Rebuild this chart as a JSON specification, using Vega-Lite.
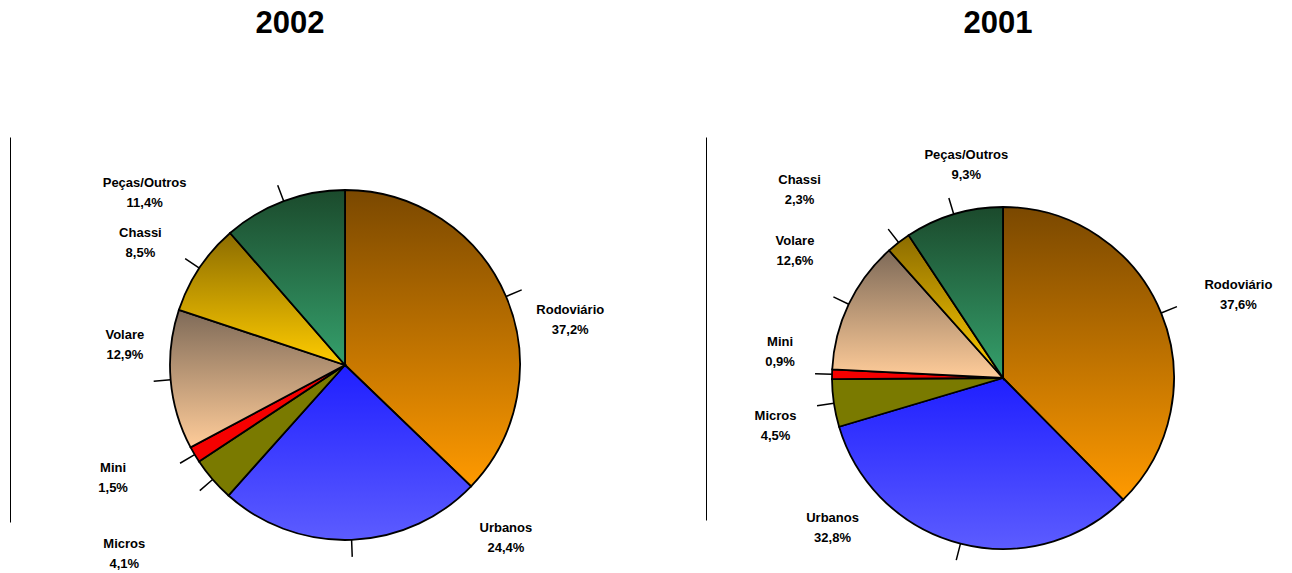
{
  "$schema": "https://vega.github.io/schema/vega-lite/v6.json",
  "autosize": "none",
  "padding": {"left": 10, "top": 137, "right": 1282, "bottom": 436},
  "background": "white",
  "spacing": 26,
  "bounds": "flush",
  "config": {
    "view": {"stroke": null},
    "text": {"font": "Liberation Sans", "fontSize": 13, "fontWeight": "bold", "lineBreak": "\n", "lineHeight": 20, "align": "center", "baseline": "middle", "fill": "black", "dy": -10},
    "title": {"font": "Liberation Sans", "fontSize": 31, "fontWeight": "bold", "color": "black", "anchor": "middle", "baseline": "alphabetic", "frame": "group"}
  },
  "datasets": {
    "d2002": [
      {"idx": 1, "category": "Rodoviário", "share": 37.2, "label": "Rodoviário\n37,2%"},
      {"idx": 2, "category": "Urbanos", "share": 24.4, "label": "Urbanos\n24,4%"},
      {"idx": 3, "category": "Micros", "share": 4.1, "label": "Micros\n4,1%"},
      {"idx": 4, "category": "Mini", "share": 1.5, "label": "Mini\n1,5%"},
      {"idx": 5, "category": "Volare", "share": 12.9, "label": "Volare\n12,9%"},
      {"idx": 6, "category": "Chassi", "share": 8.5, "label": "Chassi\n8,5%"},
      {"idx": 7, "category": "Peças/Outros", "share": 11.4, "label": "Peças/Outros\n11,4%"}
    ],
    "d2001": [
      {"idx": 1, "category": "Rodoviário", "share": 37.6, "label": "Rodoviário\n37,6%"},
      {"idx": 2, "category": "Urbanos", "share": 32.8, "label": "Urbanos\n32,8%"},
      {"idx": 3, "category": "Micros", "share": 4.5, "label": "Micros\n4,5%"},
      {"idx": 4, "category": "Mini", "share": 0.9, "label": "Mini\n0,9%"},
      {"idx": 5, "category": "Volare", "share": 12.6, "label": "Volare\n12,6%"},
      {"idx": 6, "category": "Chassi", "share": 2.3, "label": "Chassi\n2,3%"},
      {"idx": 7, "category": "Peças/Outros", "share": 9.3, "label": "Peças/Outros\n9,3%"}
    ]
  },
  "hconcat": [
    {
      "width": 670,
      "height": 456,
      "title": {"text": "2002", "dx": -55, "offset": 27},
      "data": {"name": "d2002"},
      "layer": [
        {
          "mark": {"type": "point", "opacity": 0},
          "encoding": {"y": {"field": "share", "type": "quantitative", "scale": {"range": [385, 0]}, "axis": {"domain": true, "domainColor": "black", "domainWidth": 1, "ticks": false, "labels": false, "grid": false, "title": null}}}
        },
        {
          "mark": {"type": "arc", "outerRadius": 175, "stroke": "black", "strokeWidth": 1.8},
          "encoding": {
            "theta": {"field": "share", "type": "quantitative", "stack": true},
            "order": {"field": "idx", "type": "quantitative"},
            "color": {
              "condition": [
                {"test": "datum.category === 'Rodoviário'", "value": {"gradient": "linear", "x1": 0, "y1": 0, "x2": 0, "y2": 1, "stops": [{"offset": 0, "color": "#7a4800"}, {"offset": 1, "color": "#ff9a00"}]}},
                {"test": "datum.category === 'Urbanos'", "value": {"gradient": "linear", "x1": 0, "y1": 0, "x2": 0, "y2": 1, "stops": [{"offset": 0, "color": "#1f1fff"}, {"offset": 1, "color": "#5c5cff"}]}},
                {"test": "datum.category === 'Micros'", "value": "#7a7a00"},
                {"test": "datum.category === 'Mini'", "value": "#f50000"},
                {"test": "datum.category === 'Volare'", "value": {"gradient": "linear", "x1": 0, "y1": 0, "x2": 0, "y2": 1, "stops": [{"offset": 0, "color": "#7e6a58"}, {"offset": 1, "color": "#ffcc99"}]}},
                {"test": "datum.category === 'Chassi'", "value": {"gradient": "linear", "x1": 0, "y1": 0, "x2": 0, "y2": 1, "stops": [{"offset": 0, "color": "#8c6c00"}, {"offset": 1, "color": "#ffcc00"}]}},
                {"test": "datum.category === 'Peças/Outros'", "value": {"gradient": "linear", "x1": 0, "y1": 0, "x2": 0, "y2": 1, "stops": [{"offset": 0, "color": "#1b4a2c"}, {"offset": 1, "color": "#35a06c"}]}}
              ],
              "value": "#cccccc"
            }
          }
        },
        {
          "mark": {"type": "arc", "innerRadius": 175, "outerRadius": 192, "padAngle": 3, "filled": false, "stroke": "black", "strokeWidth": 1.5},
          "encoding": {
            "theta": {"field": "share", "type": "quantitative", "stack": true},
            "order": {"field": "idx", "type": "quantitative"}
          }
        },
        {
          "mark": {"type": "text", "radius": 235, "dx": -9, "dy": -2},
          "encoding": {"theta": {"field": "share", "type": "quantitative", "stack": true}, "order": {"field": "idx", "type": "quantitative"},
            "text": {"condition": {"test": "datum.category === 'Chassi'", "field": "label"}, "value": ""}}
        },
        {
          "mark": {"type": "text", "radius": 235, "dx": 14, "dy": -50},
          "encoding": {"theta": {"field": "share", "type": "quantitative", "stack": true}, "order": {"field": "idx", "type": "quantitative"},
            "text": {"condition": {"test": "datum.category === 'Volare'", "field": "label"}, "value": ""}}
        },
        {
          "mark": {"type": "text", "radius": 235, "dx": 9, "dy": 37},
          "encoding": {"theta": {"field": "share", "type": "quantitative", "stack": true}, "order": {"field": "idx", "type": "quantitative"},
            "text": {"condition": {"test": "datum.category === 'Rodoviário'", "field": "label"}, "value": ""}}
        },
        {
          "mark": {"type": "text", "radius": 235, "dx": 152, "dy": -72},
          "encoding": {"theta": {"field": "share", "type": "quantitative", "stack": true}, "order": {"field": "idx", "type": "quantitative"},
            "text": {"condition": {"test": "datum.category === 'Urbanos'", "field": "label"}, "value": ""}}
        },
        {
          "mark": {"type": "text", "radius": 235, "dx": -43, "dy": 25},
          "encoding": {"theta": {"field": "share", "type": "quantitative", "stack": true}, "order": {"field": "idx", "type": "quantitative"},
            "text": {"condition": {"test": "datum.category === 'Micros'", "field": "label"}, "value": ""}}
        },
        {
          "mark": {"type": "text", "radius": 235, "dx": -30, "dy": -17},
          "encoding": {"theta": {"field": "share", "type": "quantitative", "stack": true}, "order": {"field": "idx", "type": "quantitative"},
            "text": {"condition": {"test": "datum.category === 'Mini'", "field": "label"}, "value": ""}}
        },
        {
          "mark": {"type": "text", "radius": 235, "dx": -118, "dy": 38},
          "encoding": {"theta": {"field": "share", "type": "quantitative", "stack": true}, "order": {"field": "idx", "type": "quantitative"},
            "text": {"condition": {"test": "datum.category === 'Peças/Outros'", "field": "label"}, "value": ""}}
        }
      ]
    },
    {
      "width": 594,
      "height": 482,
      "title": {"text": "2001", "dx": -5, "offset": 19},
      "data": {"name": "d2001"},
      "layer": [
        {
          "mark": {"type": "point", "opacity": 0},
          "encoding": {"y": {"field": "share", "type": "quantitative", "scale": {"range": [383, 0]}, "axis": {"domain": true, "domainColor": "black", "domainWidth": 1, "ticks": false, "labels": false, "grid": false, "title": null}}}
        },
        {
          "mark": {"type": "arc", "outerRadius": 171, "stroke": "black", "strokeWidth": 1.8},
          "encoding": {
            "theta": {"field": "share", "type": "quantitative", "stack": true},
            "order": {"field": "idx", "type": "quantitative"},
            "color": {
              "condition": [
                {"test": "datum.category === 'Rodoviário'", "value": {"gradient": "linear", "x1": 0, "y1": 0, "x2": 0, "y2": 1, "stops": [{"offset": 0, "color": "#7a4800"}, {"offset": 1, "color": "#ff9a00"}]}},
                {"test": "datum.category === 'Urbanos'", "value": {"gradient": "linear", "x1": 0, "y1": 0, "x2": 0, "y2": 1, "stops": [{"offset": 0, "color": "#1f1fff"}, {"offset": 1, "color": "#5c5cff"}]}},
                {"test": "datum.category === 'Micros'", "value": "#7a7a00"},
                {"test": "datum.category === 'Mini'", "value": "#f50000"},
                {"test": "datum.category === 'Volare'", "value": {"gradient": "linear", "x1": 0, "y1": 0, "x2": 0, "y2": 1, "stops": [{"offset": 0, "color": "#7e6a58"}, {"offset": 1, "color": "#ffcc99"}]}},
                {"test": "datum.category === 'Chassi'", "value": {"gradient": "linear", "x1": 0, "y1": 0, "x2": 0, "y2": 1, "stops": [{"offset": 0, "color": "#8c6c00"}, {"offset": 1, "color": "#ffcc00"}]}},
                {"test": "datum.category === 'Peças/Outros'", "value": {"gradient": "linear", "x1": 0, "y1": 0, "x2": 0, "y2": 1, "stops": [{"offset": 0, "color": "#1b4a2c"}, {"offset": 1, "color": "#35a06c"}]}}
              ],
              "value": "#cccccc"
            }
          }
        },
        {
          "mark": {"type": "arc", "innerRadius": 171, "outerRadius": 188, "padAngle": 3, "filled": false, "stroke": "black", "strokeWidth": 1.5},
          "encoding": {
            "theta": {"field": "share", "type": "quantitative", "stack": true},
            "order": {"field": "idx", "type": "quantitative"}
          }
        },
        {
          "mark": {"type": "text", "radius": 235, "dx": 18, "dy": -4},
          "encoding": {"theta": {"field": "share", "type": "quantitative", "stack": true}, "order": {"field": "idx", "type": "quantitative"},
            "text": {"condition": {"test": "datum.category === 'Rodoviário'", "field": "label"}, "value": ""}}
        },
        {
          "mark": {"type": "text", "radius": 235, "dx": 5, "dy": 3},
          "encoding": {"theta": {"field": "share", "type": "quantitative", "stack": true}, "order": {"field": "idx", "type": "quantitative"},
            "text": {"condition": {"test": "datum.category === 'Micros'", "field": "label"}, "value": ""}}
        },
        {
          "mark": {"type": "text", "radius": 235, "dx": -112, "dy": -88},
          "encoding": {"theta": {"field": "share", "type": "quantitative", "stack": true}, "order": {"field": "idx", "type": "quantitative"},
            "text": {"condition": {"test": "datum.category === 'Urbanos'", "field": "label"}, "value": ""}}
        },
        {
          "mark": {"type": "text", "radius": 235, "dx": -60, "dy": -12},
          "encoding": {"theta": {"field": "share", "type": "quantitative", "stack": true}, "order": {"field": "idx", "type": "quantitative"},
            "text": {"condition": {"test": "datum.category === 'Chassi'", "field": "label"}, "value": ""}}
        },
        {
          "mark": {"type": "text", "radius": 235, "dx": 4, "dy": -36},
          "encoding": {"theta": {"field": "share", "type": "quantitative", "stack": true}, "order": {"field": "idx", "type": "quantitative"},
            "text": {"condition": {"test": "datum.category === 'Volare'", "field": "label"}, "value": ""}}
        },
        {
          "mark": {"type": "text", "radius": 235, "dx": 12, "dy": -31},
          "encoding": {"theta": {"field": "share", "type": "quantitative", "stack": true}, "order": {"field": "idx", "type": "quantitative"},
            "text": {"condition": {"test": "datum.category === 'Mini'", "field": "label"}, "value": ""}}
        },
        {
          "mark": {"type": "text", "radius": 235, "dx": 31, "dy": 2},
          "encoding": {"theta": {"field": "share", "type": "quantitative", "stack": true}, "order": {"field": "idx", "type": "quantitative"},
            "text": {"condition": {"test": "datum.category === 'Peças/Outros'", "field": "label"}, "value": ""}}
        }
      ]
    }
  ]
}
